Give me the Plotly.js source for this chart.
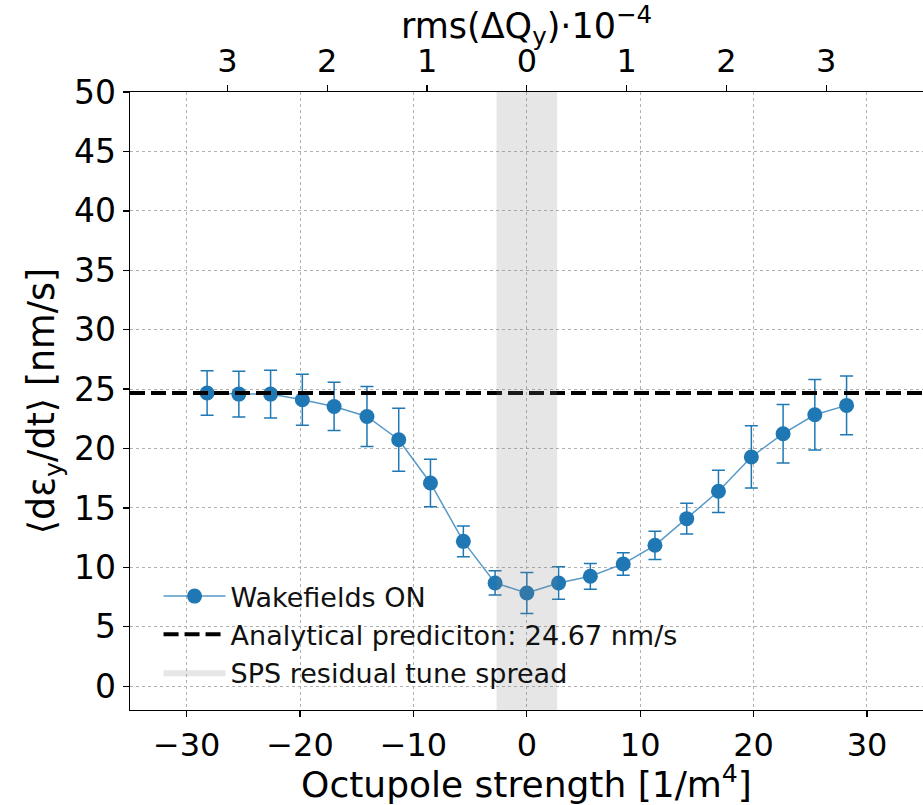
<!DOCTYPE html>
<html>
<head>
<meta charset="utf-8">
<script src="https://cdn.plot.ly/plotly-3.0.1.min.js"></script>
<style>html,body{margin:0;padding:0;overflow:hidden;background:#fff}</style>
</head>
<body>
<div id="chart" style="width:923px;height:805px"></div>
<script>
// ---- data ----
const octupoleStrength = [-28.2,-25.4,-22.6,-19.8,-17.0,-14.1,-11.3,-8.5,-5.6,-2.8,0,2.8,5.6,8.5,11.3,14.1,16.9,19.8,22.6,25.4,28.2];
const growthRate = [24.67,24.58,24.58,24.10,23.54,22.70,20.74,17.10,12.19,8.69,7.85,8.69,9.25,10.29,11.86,14.10,16.40,19.29,21.25,22.84,23.63];
const growthErr = [1.87,1.93,2.00,2.15,2.03,2.52,2.66,1.99,1.29,1.02,1.73,1.37,1.08,0.95,1.19,1.29,1.78,2.62,2.46,2.96,2.48];
const analyticalPrediction = 24.67;
const residualSpread = [-2.67, 2.67];
const xRange = [-35, 34.94];
const yRange = [-2, 50];
const rmsTickPos = [-26.4,-17.6,-8.8,0,8.8,17.6,26.4];
const rmsTickText = ['3','2','1','0','1','2','3'];

const FONT = 'DejaVu Sans, sans-serif';
const blue = '#1f77b4';

const traces = [
  {
    x: octupoleStrength, y: growthRate, type: 'scatter', mode: 'lines+markers',
    name: 'Wakefields ON',
    line: {color: 'rgba(31,119,180,0.75)', width: 1.5},
    marker: {color: blue, size: 15},
    error_y: {type: 'data', array: growthErr, visible: true, color: blue, thickness: 1.5, width: 6.5}
  },
  {
    x: xRange, y: [analyticalPrediction, analyticalPrediction], type: 'scatter', mode: 'lines',
    name: 'Analytical prediciton: ' + analyticalPrediction.toFixed(2) + ' nm/s',
    line: {color: '#000', width: 4, dash: '15px,6px'},
    hoverinfo: 'skip'
  },
  {
    x: [residualSpread[0], residualSpread[1], residualSpread[1], residualSpread[0], residualSpread[0]],
    y: [yRange[0], yRange[0], yRange[1], yRange[1], yRange[0]],
    type: 'scatter', mode: 'lines', fill: 'toself',
    fillcolor: 'rgba(128,128,128,0.2)', line: {width: 0, color: 'rgba(0,0,0,0)'},
    name: 'SPS residual tune spread', hoverinfo: 'skip'
  },
  {
    x: rmsTickPos, y: rmsTickPos.map(() => null), xaxis: 'x2', type: 'scatter', mode: 'markers',
    showlegend: false, hoverinfo: 'skip'
  }
];

const gridStyle = {showgrid: true, gridcolor: '#b0b0b0', gridwidth: 1, griddash: '3px,3px'};

const layout = {
  width: 923, height: 805,
  margin: {l: 130, r: 0, t: 92, b: 95},
  paper_bgcolor: '#fff', plot_bgcolor: '#fff',
  font: {family: FONT, color: '#000'},
  showlegend: true,
  legend: {
    x: 0.036, y: 0.021, xanchor: 'left', yanchor: 'bottom',
    bgcolor: 'rgba(0,0,0,0)', borderwidth: 0,
    font: {family: FONT, size: 27, color: '#111'},
    itemwidth: 62, tracegroupgap: 0
  },
  xaxis: Object.assign({
    range: xRange, tickvals: [-30,-20,-10,0,10,20,30],
    ticktext: ['\u221230','\u221220','\u221210','0','10','20','30'],
    showline: true, linecolor: '#000', linewidth: 1.3, mirror: false,
    ticks: 'outside', ticklen: 6, tickwidth: 1.3, tickcolor: '#000',
    tickfont: {family: FONT, size: 32}, zeroline: false,
    title: {text: 'Octupole strength [1/m<sup>4</sup>]', font: {family: FONT, size: 36}, standoff: 7}
  }, gridStyle),
  xaxis2: {
    overlaying: 'x', side: 'top', range: xRange, anchor: 'y',
    tickvals: rmsTickPos, ticktext: rmsTickText,
    showline: true, linecolor: '#000', linewidth: 1.3,
    ticks: 'outside', ticklen: 6, tickwidth: 1.3, tickcolor: '#000',
    tickfont: {family: FONT, size: 32}, showgrid: false, zeroline: false,
    title: {text: 'rms(\u0394Q<sub>y</sub>)\u00b710<sup>\u22124</sup>', font: {family: FONT, size: 35}, standoff: 9}
  },
  yaxis: Object.assign({
    range: yRange, tickvals: [0,5,10,15,20,25,30,35,40,45,50],
    showline: true, linecolor: '#000', linewidth: 1.3, mirror: false,
    ticks: 'outside', ticklen: 6, tickwidth: 1.3, tickcolor: '#000',
    tickfont: {family: FONT, size: 33}, zeroline: false,
    title: {text: '\u27e8d\u03b5<sub>y</sub>/dt\u27e9 [nm/s]', font: {family: FONT, size: 36.5}, standoff: 8}
  }, gridStyle)
};

Plotly.newPlot('chart', traces, layout, {displayModeBar: false, staticPlot: true});
</script>
</body>
</html>
